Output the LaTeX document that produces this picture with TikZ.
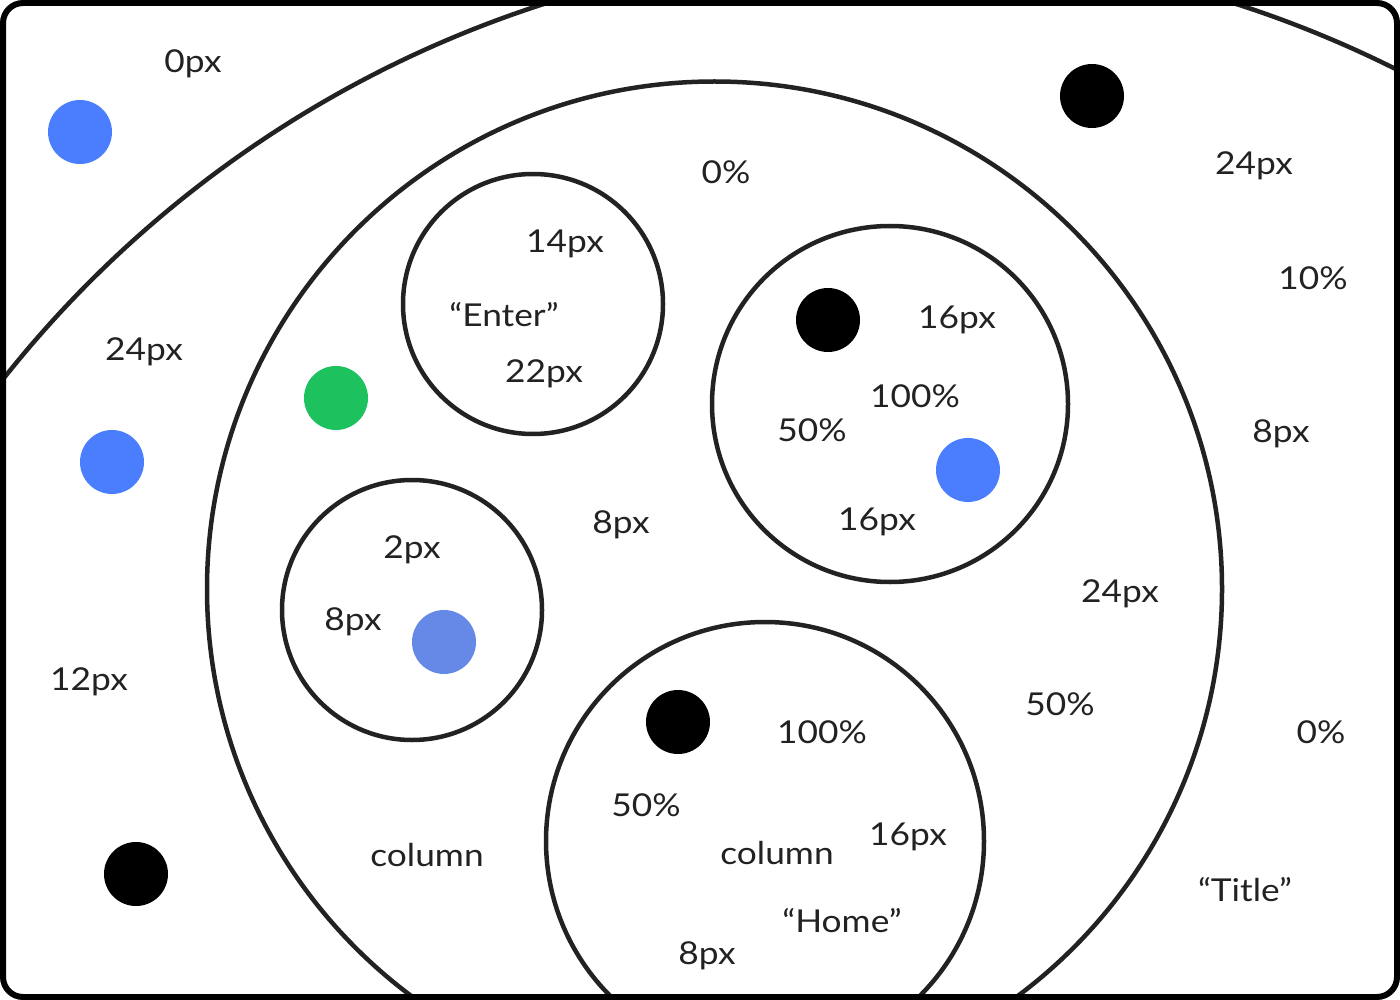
\documentclass[tikz,border=0pt]{standalone}
\usepackage{fontspec}
\setmainfont{Lato}[FakeStretch=1.12]
\definecolor{ink}{HTML}{222222}
\definecolor{dotblue}{HTML}{4A7EFF}
\definecolor{dotlight}{HTML}{6689E8}
\definecolor{dotgreen}{HTML}{1DC25F}
\begin{document}
\begin{tikzpicture}[x=1pt,y=-1pt,
  ring/.style={circle,draw=ink,line width=4.5pt,inner sep=0pt,minimum size=#1},
  dot/.style={circle,fill=#1,inner sep=0pt,minimum size=64pt},
  lbl/.style={text=ink,font=\fontsize{31.5}{36}\selectfont,inner sep=0pt,yshift=-2.5pt}]
\useasboundingbox (0,0) rectangle (1400,1000);
\fill[white] (0,0) rectangle (1400,1000);
\begin{scope}
\clip[rounded corners=20pt] (3,3) rectangle (1397,997);
\node[ring=2262pt] (big) at (890,1081) {};
\node[ring=1015pt] (mid) at (714.5,589) {};
\node[ring=438pt] (home) at (765,841) {};
\end{scope}
\node[ring=260pt] (enter) at (533,304) {};
\node[ring=356pt] (right) at (890,404) {};
\node[ring=260pt] (left) at (412,610) {};
% dots
\node[dot=dotblue] (d1) at (80,132) {};
\node[dot=dotblue] (d2) at (112,462) {};
\node[dot=black] (d3) at (136,874) {};
\node[dot=dotgreen] (d4) at (336,398) {};
\node[dot=black] (d5) at (1092,96) {};
\node[dot=black] (d6) at (828,320) {};
\node[dot=dotblue] (d7) at (968,470) {};
\node[dot=dotlight] (d8) at (444,642) {};
\node[dot=black] (d9) at (678,722) {};
% labels
\node[lbl] (t1) at (193,61) {0px};
\node[lbl] (t2) at (726,170) {0\%};
\node[lbl] (t3) at (1254,163) {24px};
\node[lbl] (t4) at (565,241) {14px};
\node[lbl] (t5) at (504,312) {“Enter”};
\node[lbl] (t6) at (544,371) {22px};
\node[lbl] (t7) at (1313,276) {10\%};
\node[lbl] (t8) at (957,317) {16px};
\node[lbl] (t9) at (144,349) {24px};
\node[lbl] (t10) at (915,394) {100\%};
\node[lbl] (t11) at (812,428) {50\%};
\node[lbl] (t12) at (1281,431) {8px};
\node[lbl] (t13) at (877,519) {16px};
\node[lbl] (t14) at (621,522) {8px};
\node[lbl] (t15) at (412,547) {2px};
\node[lbl] (t16) at (1120,591) {24px};
\node[lbl] (t17) at (353,619) {8px};
\node[lbl] (t18) at (89,679) {12px};
\node[lbl] (t19) at (1060,702) {50\%};
\node[lbl] (t20) at (822,730) {100\%};
\node[lbl] (t21) at (1321,730) {0\%};
\node[lbl] (t22) at (646,803) {50\%};
\node[lbl] (t23) at (908,834) {16px};
\node[lbl] (t24) at (427,853) {column};
\node[lbl] (t25) at (777,851) {column};
\node[lbl] (t26) at (1245,887) {“Title”};
\node[lbl] (t27) at (842,918) {“Home”};
\node[lbl] (t28) at (707,953) {8px};
% frame
\draw[black,line width=6pt,rounded corners=20pt] (3,3) rectangle (1397,997);
\end{tikzpicture}
\end{document}
